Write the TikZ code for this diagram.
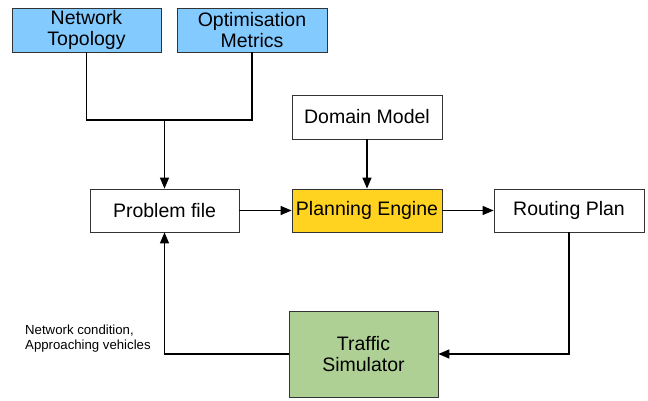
\documentclass[tikz,border=0pt]{standalone}
\usepackage{fontspec}
\setmainfont{Liberation Sans}
\usetikzlibrary{arrows.meta}
\definecolor{boxblue}{HTML}{83CAFF}
\definecolor{boxyellow}{HTML}{FFD320}
\definecolor{boxgreen}{HTML}{AFD095}
\begin{document}
\begin{tikzpicture}[x=1pt,y=-1pt,
  blk/.style={draw=black!80, line width=0.8pt, rectangle, inner sep=0pt,
    minimum width=150pt, minimum height=44pt, align=center,
    font=\fontsize{19.5}{21}\selectfont},
  conn/.style={line width=1.3pt, black},
  arr/.style={conn, -{Triangle[length=11pt,width=9pt]}}]
\useasboundingbox (0,0) rectangle (648,401);
\node[blk, fill=boxblue, minimum width=149pt] (nt) at (86.5,30) {Network\\Topology};
\node[blk, fill=boxblue] (om) at (252,30) {Optimisation\\Metrics};
\node[blk, fill=white] (dm) at (367,117) {Domain Model};
\node[blk, fill=white, minimum width=149pt, minimum height=43pt] (pf) at (164.5,210.5) {Problem file};
\node[blk, fill=boxyellow, minimum height=43pt] (pe) at (367,210.5) {Planning Engine};
\node[blk, fill=white, minimum height=43pt] (rp) at (569,210.5) {Routing Plan};
\node[blk, fill=boxgreen, minimum width=149pt, minimum height=86pt] (ts) at (363.5,354) {Traffic\\Simulator};
\node[anchor=west, align=left, inner sep=0pt, font=\fontsize{13.2}{14.5}\selectfont] (lbl) at (25,338.5) {Network condition,\\Approaching vehicles};
\coordinate (j) at (164.5,120);
\draw[conn] (nt.south) |- (j) -| (om.south);
\draw[arr] (j) -- (pf.north);
\draw[arr] (pf.east) -- (pe.west);
\draw[arr] (dm.south) -- (pe.north);
\draw[arr] (pe.east) -- (rp.west);
\draw[arr] (rp.south) |- (ts.east);
\draw[arr] (ts.west) -| (pf.south);
\end{tikzpicture}
\end{document}
